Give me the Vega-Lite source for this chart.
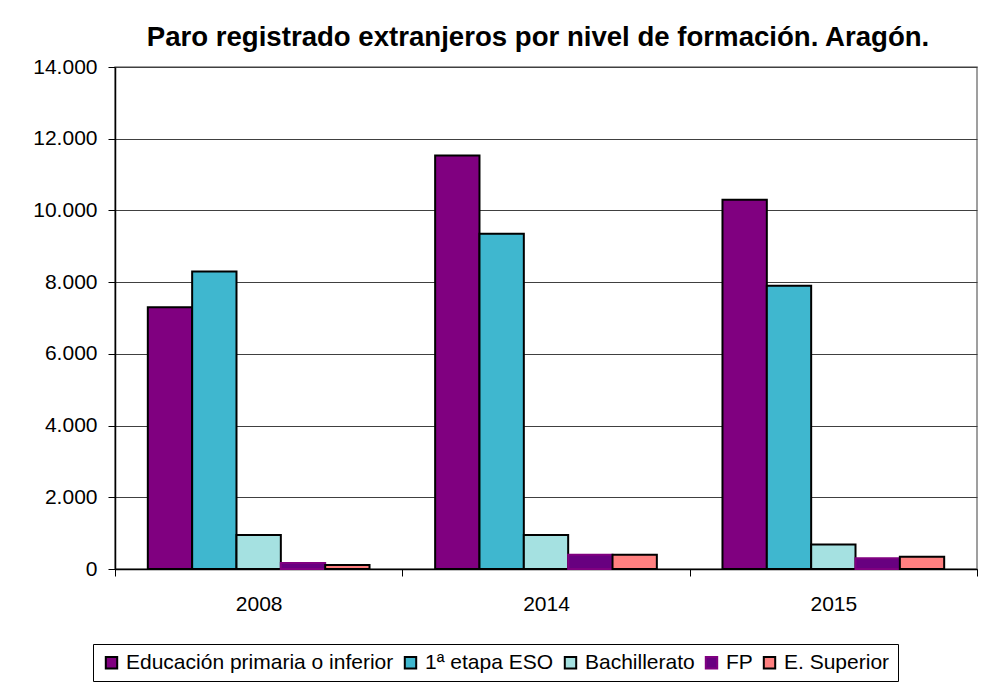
{
  "$schema": "https://vega.github.io/schema/vega-lite/v6.json",
  "width": 862,
  "height": 502,
  "autosize": {"type": "none"},
  "padding": {"left": 115, "top": 67, "right": 4, "bottom": 120},
  "background": "white",
  "title": {
    "text": "Paro registrado extranjeros por nivel de formación. Aragón.",
    "font": "Liberation Sans",
    "fontSize": 27.6,
    "fontWeight": "bold",
    "color": "black",
    "anchor": "middle",
    "offset": 4,
    "dx": -8
  },
  "data": {
    "values": [
      {"anio": "2008", "nivel": "Educación primaria o inferior", "valor": 7300},
      {"anio": "2008", "nivel": "1ª etapa ESO", "valor": 8300},
      {"anio": "2008", "nivel": "Bachillerato", "valor": 950},
      {"anio": "2008", "nivel": "FP", "valor": 170},
      {"anio": "2008", "nivel": "E. Superior", "valor": 110},
      {"anio": "2014", "nivel": "Educación primaria o inferior", "valor": 11530},
      {"anio": "2014", "nivel": "1ª etapa ESO", "valor": 9350},
      {"anio": "2014", "nivel": "Bachillerato", "valor": 950},
      {"anio": "2014", "nivel": "FP", "valor": 400},
      {"anio": "2014", "nivel": "E. Superior", "valor": 400},
      {"anio": "2015", "nivel": "Educación primaria o inferior", "valor": 10300},
      {"anio": "2015", "nivel": "1ª etapa ESO", "valor": 7900},
      {"anio": "2015", "nivel": "Bachillerato", "valor": 680},
      {"anio": "2015", "nivel": "FP", "valor": 300},
      {"anio": "2015", "nivel": "E. Superior", "valor": 340}
    ]
  },
  "mark": {"type": "bar", "strokeWidth": 2},
  "encoding": {
    "x": {
      "field": "anio",
      "type": "nominal",
      "scale": {"paddingInner": 0, "paddingOuter": 0},
      "axis": {
        "title": null,
        "labelAngle": 0,
        "tickBand": "extent",
        "tickSize": 7,
        "tickColor": "black",
        "domainColor": "black",
        "labelPadding": 17,
        "labelFontSize": 21,
        "labelFont": "Liberation Sans",
        "labelColor": "black"
      }
    },
    "xOffset": {
      "field": "nivel",
      "type": "nominal",
      "sort": ["Educación primaria o inferior", "1ª etapa ESO", "Bachillerato", "FP", "E. Superior"],
      "scale": {"paddingInner": 0, "paddingOuter": 0.74}
    },
    "y": {
      "field": "valor",
      "type": "quantitative",
      "scale": {"domain": [0, 14000], "nice": false},
      "axis": {
        "title": null,
        "values": [0, 2000, 4000, 6000, 8000, 10000, 12000, 14000],
        "format": ",d",
        "tickSize": 7,
        "tickColor": "black",
        "domainColor": "black",
        "gridColor": "#404040",
        "gridOpacity": 1,
        "labelPadding": 11,
        "labelFontSize": 21,
        "labelFont": "Liberation Sans",
        "labelColor": "black"
      }
    },
    "fill": {
      "field": "nivel",
      "type": "nominal",
      "sort": ["Educación primaria o inferior", "1ª etapa ESO", "Bachillerato", "FP", "E. Superior"],
      "scale": {
        "domain": ["Educación primaria o inferior", "1ª etapa ESO", "Bachillerato", "FP", "E. Superior"],
        "range": ["#800080", "#3FB7CF", "#A5E1E1", "#680080", "#FF8080"]
      },
      "legend": {
        "title": null,
        "orient": "none",
        "legendX": -22,
        "legendY": 577,
        "direction": "horizontal",
        "columns": 5,
        "symbolType": "square",
        "symbolSize": 130,
        "symbolStrokeWidth": 2,
        "labelFontSize": 21,
        "labelFont": "Liberation Sans",
        "labelColor": "black",
        "labelLimit": 400,
        "labelOffset": 4,
        "columnPadding": 6,
        "padding": 8,
        "strokeColor": "black",
        "fillColor": "white"
      }
    },
    "stroke": {
      "field": "nivel",
      "type": "nominal",
      "sort": ["Educación primaria o inferior", "1ª etapa ESO", "Bachillerato", "FP", "E. Superior"],
      "scale": {
        "domain": ["Educación primaria o inferior", "1ª etapa ESO", "Bachillerato", "FP", "E. Superior"],
        "range": ["black", "black", "black", "#800080", "black"]
      }
    }
  },
  "config": {
    "locale": {
      "number": {"decimal": ",", "thousands": ".", "grouping": [3], "currency": ["", " €"]}
    },
    "view": {"stroke": "#808080", "strokeWidth": 1.5},
    "axis": {"domainWidth": 1.5}
  }
}
